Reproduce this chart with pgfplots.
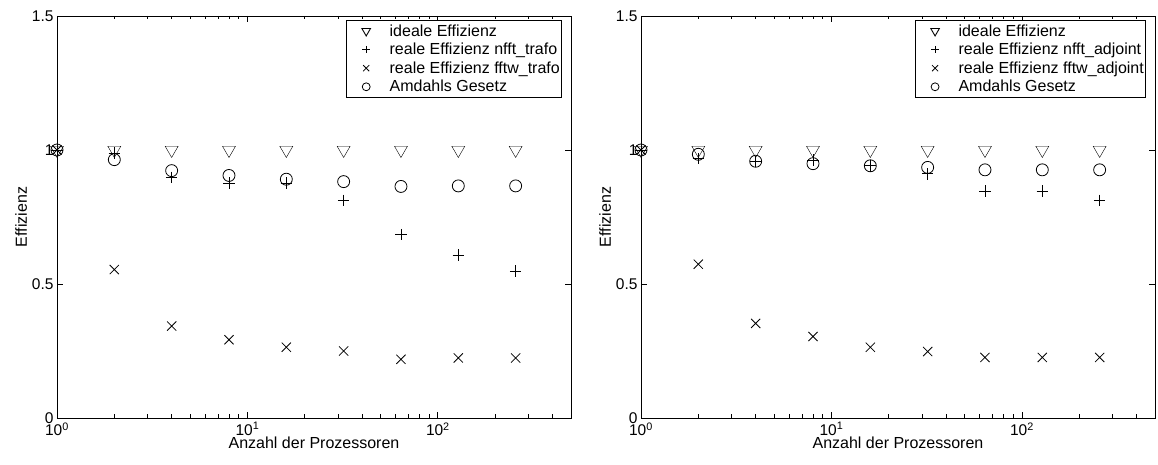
\documentclass[border=0pt]{standalone}
\usepackage{fontspec}
\setmainfont{Liberation Sans}
\usepackage{pgfplots}
\pgfplotsset{compat=1.18}
\pgfplotsset{
  legend image code/.code={\path (0pt,-4pt) (40pt,4pt); \draw[#1, every mark/.append style={scale=0.66}] plot coordinates {(19pt,0pt)};},
  every axis/.append style={
  scale only axis, width=514pt, height=402pt,
  tick align=inside, major tick length=6pt, minor tick length=3.5pt,
  axis line style={line width=0.9pt},
  every tick/.style={line width=0.8pt, black},
  tick label style={font=\fontsize{15.5}{17}\selectfont},
  xticklabel style={yshift=-1pt},
  label style={font=\fontsize{16}{18}\selectfont},
  xlabel style={yshift=5pt},
  ylabel style={yshift=-2pt},
  clip=false,
  legend style={at={(rel axis cs:0.983,0.99)}, anchor=north east, draw=black,
     line width=0.9pt, font=\fontsize{16}{18}\selectfont, cells={anchor=west},
     inner xsep=0pt, inner ysep=2pt, row sep=1.5pt},
  },
  every axis plot/.append style={only marks, black, mark options={line width=0.8pt, fill=none}},
}
\begin{document}
\begin{tikzpicture}
\useasboundingbox (-57pt,-47pt) rectangle (1101pt,418pt);
\begin{axis}[at={(0pt,0pt)},
  xmode=log, xmin=1, xmax=500, ymin=0, ymax=1.5,
  xtick={1,10,100}, xticklabels={10\textsuperscript{0},10\textsuperscript{1},10\textsuperscript{2}},
  minor xtick={2,3,4,5,6,7,8,9,20,30,40,50,60,70,80,90,200,300,400},
  ytick={0,0.5,1,1.5}, yticklabels={0,0.5,1,1.5},
  xlabel={Anzahl der Prozessoren}, ylabel={Effizienz}]
\addplot[mark=triangle, mark size=7.5pt, mark options={rotate=180}] coordinates {(1,1)(2,1)(4,1)(8,1)(16,1)(32,1)(64,1)(128,1)(256,1)};
\addlegendentry{ideale Effizienz}
\addplot[mark=+, mark size=5.8pt] coordinates {(1,1)(2,0.988)(4,0.898)(8,0.877)(16,0.876)(32,0.812)(64,0.684)(128,0.608)(256,0.548)};
\addlegendentry{reale Effizienz nfft\_trafo}
\addplot[mark=x, mark size=6.5pt] coordinates {(1,1)(2,0.554)(4,0.343)(8,0.292)(16,0.264)(32,0.250)(64,0.219)(128,0.224)(256,0.224)};
\addlegendentry{reale Effizienz fftw\_trafo}
\addplot[mark=o, mark size=6pt] coordinates {(1,1)(2,0.964)(4,0.923)(8,0.905)(16,0.891)(32,0.882)(64,0.864)(128,0.866)(256,0.866)};
\addlegendentry{Amdahls Gesetz}
\end{axis}
\begin{axis}[at={(584pt,0pt)},
  xmode=log, xmin=1, xmax=500, ymin=0, ymax=1.5,
  xtick={1,10,100}, xticklabels={10\textsuperscript{0},10\textsuperscript{1},10\textsuperscript{2}},
  minor xtick={2,3,4,5,6,7,8,9,20,30,40,50,60,70,80,90,200,300,400},
  ytick={0,0.5,1,1.5}, yticklabels={0,0.5,1,1.5},
  xlabel={Anzahl der Prozessoren}, ylabel={Effizienz}]
\addplot[mark=triangle, mark size=7.5pt, mark options={rotate=180}] coordinates {(1,1)(2,1)(4,1)(8,1)(16,1)(32,1)(64,1)(128,1)(256,1)};
\addlegendentry{ideale Effizienz}
\addplot[mark=+, mark size=5.8pt] coordinates {(1,1)(2,0.968)(4,0.957)(8,0.963)(16,0.941)(32,0.911)(64,0.846)(128,0.846)(256,0.812)};
\addlegendentry{reale Effizienz nfft\_adjoint}
\addplot[mark=x, mark size=6.5pt] coordinates {(1,1)(2,0.574)(4,0.353)(8,0.304)(16,0.264)(32,0.248)(64,0.226)(128,0.226)(256,0.226)};
\addlegendentry{reale Effizienz fftw\_adjoint}
\addplot[mark=o, mark size=6pt] coordinates {(1,1)(2,0.984)(4,0.958)(8,0.949)(16,0.941)(32,0.935)(64,0.926)(128,0.926)(256,0.926)};
\addlegendentry{Amdahls Gesetz}
\end{axis}
\end{tikzpicture}
\end{document}
